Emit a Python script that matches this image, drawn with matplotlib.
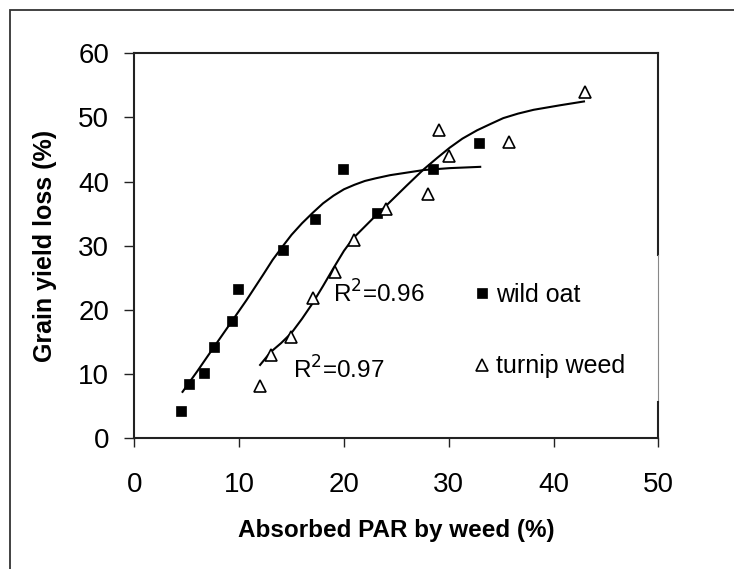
import matplotlib
matplotlib.use("Agg")
import matplotlib.pyplot as plt
from matplotlib.patches import Rectangle

plt.rcParams['font.family'] = ['Liberation Sans', 'DejaVu Sans']

# observed points
oat_x = [4.5, 5.25, 6.6, 7.6, 9.3, 9.85, 14.15, 17.25, 19.95, 23.15, 28.5, 32.9]
oat_y = [4.2, 8.4, 10.2, 14.2, 18.2, 23.2, 29.3, 34.2, 42.0, 35.1, 42.0, 46.0]

turnip_x = [12.0, 13.05, 14.95, 17.0, 19.1, 20.95, 24.05, 28.05, 29.05, 30.0, 35.7, 42.95]
turnip_y = [8.1, 12.9, 15.8, 21.8, 25.9, 30.9, 35.8, 38.1, 48.0, 44.0, 46.1, 54.0]

# fitted curves
oat_fit_x = [4.6, 6.0, 7.6, 9.3, 10.7, 12.3, 13.2, 14.2, 15.0, 16.0, 17.0, 18.0, 19.0,
             20.0, 21.0, 22.0, 23.0, 24.4, 26.0, 27.6, 30.1, 33.0]
oat_fit_y = [7.2, 10.4, 14.2, 18.2, 21.5, 25.5, 27.8, 30.0, 31.7, 33.5, 35.1, 36.6, 37.8,
             38.8, 39.5, 40.1, 40.5, 41.0, 41.4, 41.8, 42.1, 42.3]

turnip_fit_x = [12.0, 13.0, 14.0, 15.0, 16.0, 17.0, 18.0, 19.0, 20.0, 20.9, 22.0, 23.1,
                24.0, 25.0, 26.0, 27.6, 28.9, 30.1, 31.3, 32.7, 34.0, 35.2, 36.6, 38.1,
                40.6, 42.9]
turnip_fit_y = [11.4, 13.4, 14.8, 16.4, 18.6, 21.0, 23.7, 26.5, 29.2, 31.2, 33.0, 34.8,
                36.2, 37.8, 39.4, 41.9, 43.7, 45.3, 46.7, 48.0, 49.0, 49.9, 50.6, 51.2,
                51.9, 52.5]

labels = ['wild oat', 'turnip weed']
r2_labels = ['R$^2$=0.96', 'R$^2$=0.97']

fig = plt.figure(figsize=(7.34, 5.69), dpi=100)
ax = fig.add_axes([0.183, 0.2302, 0.714, 0.676])

# figure frame (only left/top edges fall inside the image)
fig.patches.append(Rectangle((9.5 / 734, -0.1), 1.2, 1.1 - 10.5 / 569,
                             transform=fig.transFigure, fill=False,
                             edgecolor='#333333', linewidth=1.3))

ax.plot(oat_fit_x, oat_fit_y, color='black', linewidth=1.5, zorder=2)
ax.plot(turnip_fit_x, turnip_fit_y, color='black', linewidth=1.5, zorder=2)

ax.plot(oat_x, oat_y, linestyle='none', marker='s', markersize=7.8,
        markerfacecolor='black', markeredgecolor='black', markeredgewidth=0.5,
        label=labels[0], zorder=3)
ax.plot(turnip_x, turnip_y, linestyle='none', marker='^', markersize=8.8,
        markerfacecolor='white', markeredgecolor='black', markeredgewidth=1.2,
        label=labels[1], zorder=3)

ax.text(19.0, 21.2, r2_labels[0], fontsize=17.5)
ax.text(15.1, 9.3, r2_labels[1], fontsize=17.5)

ax.set_xlim(0, 50)
ax.set_ylim(0, 60)
ax.set_xticks(range(0, 51, 10))
ax.set_yticks(range(0, 61, 10))
ax.tick_params(axis='both', labelsize=20, width=1.0, color='#222222')
ax.tick_params(axis='y', length=7, pad=11)
ax.tick_params(axis='x', length=6.5, pad=18)

ax.set_xlabel('Absorbed PAR by weed (%)', fontsize=17.5, fontweight='bold', labelpad=15)
ax.set_ylabel('Grain yield loss (%)', fontsize=18, fontweight='bold', labelpad=15)

for side in ['left', 'bottom', 'top']:
    ax.spines[side].set_linewidth(1.5)
    ax.spines[side].set_color('#222222')
ax.spines['right'].set_visible(False)
# right edge is broken in the original: dark, faint, dark
ax.plot([1, 1], [0.476, 1], transform=ax.transAxes, color='#222222', linewidth=1.5, clip_on=False)
ax.plot([1, 1], [0.094, 0.476], transform=ax.transAxes, color='#888888', linewidth=0.8, clip_on=False)
ax.plot([1, 1], [0, 0.094], transform=ax.transAxes, color='#222222', linewidth=1.5, clip_on=False)

ax.legend(loc='center left', bbox_to_anchor=(0.652, 0.279), frameon=False,
          fontsize=18, handlelength=0.5, handletextpad=0.3, labelspacing=1.9,
          borderpad=0, borderaxespad=0)

fig.savefig('out.png', dpi=100)
